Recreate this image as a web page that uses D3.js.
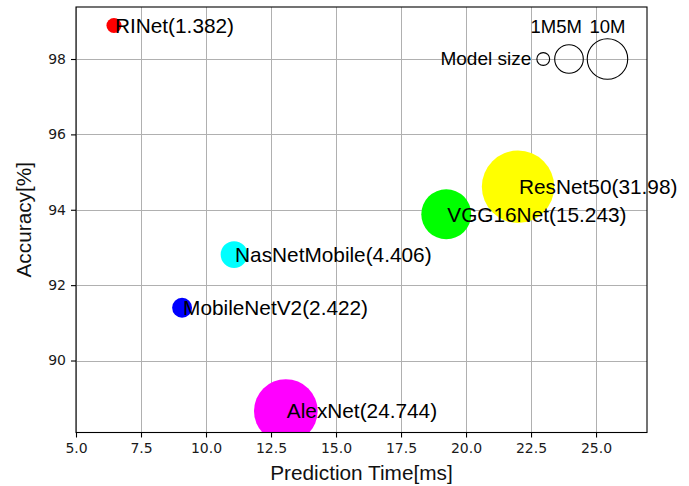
<!DOCTYPE html>
<html>
<head>
<meta charset="utf-8">
<script src="https://cdn.jsdelivr.net/npm/d3@7"></script>
<style>
  html, body { margin: 0; padding: 0; background: #fff; }
  svg { display: block; }
</style>
</head>
<body>
<svg id="chart" width="689" height="486"></svg>
<script>
// ---- data ----
const models   = ["RINet", "MobileNetV2", "NasNetMobile", "AlexNet", "VGG16Net", "ResNet50"];
const times    = [6.46, 9.08, 11.08, 13.07, 19.24, 22.0];      // Prediction Time [ms]
const accuracy = [98.89, 91.40, 92.81, 88.66, 93.88, 94.61];    // Accuracy [%]
const params   = [1.382, 2.422, 4.406, 24.744, 15.243, 31.98];  // Model size [M]
const colors   = ["#ff0000", "#0000ff", "#00ffff", "#ff00ff", "#00ff00", "#ffff00"];

const legendSizes  = [1, 5, 10];
const legendLabels = ["1M", "5M", "10M"];
const legendX      = [22.97, 23.96, 25.44];
const legendY      = 98;
const legendLabelY = 98.7;

const xTicks = [5, 7.5, 10, 12.5, 15, 17.5, 20, 22.5, 25];
const yTicks = [90, 92, 94, 96, 98];

// ---- layout ----
const svg = d3.select("#chart");
const L = 76, R = 647, T = 7, B = 432.5;
const x = d3.scaleLinear().domain([5, 26.96]).range([L, R]);
const y = d3.scaleLinear().domain([88.09, 99.38]).range([B, T]);
const r = d3.scaleSqrt().domain([0, 32]).range([0, 6.4 * Math.sqrt(32)]);

const sans = "'Liberation Sans', Arial, Helvetica, sans-serif";
const dejavu = "'DejaVu Sans', sans-serif";

svg.append("defs").append("clipPath").attr("id", "clip")
  .append("rect").attr("x", L).attr("y", T).attr("width", R - L).attr("height", B - T);

// grid
const grid = svg.append("g").attr("stroke", "#b0b0b0").attr("stroke-width", 1);
grid.selectAll("line.gx").data(xTicks).join("line")
  .attr("x1", d => Math.round(x(d)) + 0.5).attr("x2", d => Math.round(x(d)) + 0.5)
  .attr("y1", T).attr("y2", B);
grid.selectAll("line.gy").data(yTicks).join("line")
  .attr("y1", d => Math.round(y(d)) + 0.5).attr("y2", d => Math.round(y(d)) + 0.5)
  .attr("x1", L).attr("x2", R);

// bubbles
const data = models.map((m, i) => ({ m, t: times[i], a: accuracy[i], p: params[i], c: colors[i] }));
svg.append("g").attr("clip-path", "url(#clip)")
  .selectAll("circle").data(data).join("circle")
  .attr("cx", d => x(d.t)).attr("cy", d => y(d.a)).attr("r", d => r(d.p))
  .attr("fill", d => d.c);

// labels
svg.append("g").attr("font-family", sans).attr("font-size", 20.8).attr("fill", "#000")
  .selectAll("text").data(data).join("text")
  .attr("x", d => x(d.t) + 1).attr("y", d => y(d.a)).attr("dy", "0.35em")
  .text(d => `${d.m}(${d.p})`);

// size legend
const lg = svg.append("g");
lg.selectAll("circle").data(legendSizes).join("circle")
  .attr("cx", (d, i) => x(legendX[i])).attr("cy", y(legendY)).attr("r", d => r(d))
  .attr("fill", "none").attr("stroke", "#000").attr("stroke-width", 1.1);
lg.selectAll("text.lab").data(legendLabels).join("text")
  .attr("class", "lab")
  .attr("x", (d, i) => x(legendX[i])).attr("y", y(legendLabelY))
  .attr("text-anchor", "middle").attr("font-family", sans).attr("font-size", 18.5)
  .text(d => d);
lg.append("text")
  .attr("x", x(legendX[0]) - 12).attr("y", y(legendY)).attr("dy", "0.33em")
  .attr("text-anchor", "end").attr("font-family", sans).attr("font-size", 19)
  .text("Model size");

// axes
const xAxis = d3.axisBottom(x).tickValues(xTicks).tickFormat(d3.format(".1f")).tickSize(5).tickPadding(5);
const yAxis = d3.axisLeft(y).tickValues(yTicks).tickFormat(d3.format("d")).tickSize(5).tickPadding(5);

const gx = svg.append("g").attr("transform", `translate(0,${B})`).call(xAxis);
const gy = svg.append("g").attr("transform", `translate(${L},0)`).call(yAxis);
[gx, gy].forEach(g => {
  g.select(".domain").remove();
  g.selectAll(".tick line").attr("stroke", "#000").attr("stroke-width", 1.1);
  g.selectAll(".tick text").attr("font-family", dejavu).attr("font-size", 14).attr("fill", "#1a1a1a");
});
gx.selectAll(".tick text").attr("dy", "0.72em");

// frame
svg.append("rect").attr("x", L).attr("y", T).attr("width", R - L).attr("height", B - T)
  .attr("fill", "none").attr("stroke", "#000").attr("stroke-width", 1.1);

// axis titles
svg.append("text").attr("x", (L + R) / 2).attr("y", 480)
  .attr("text-anchor", "middle").attr("font-family", sans).attr("font-size", 20.8)
  .attr("fill", "#111").text("Prediction Time[ms]");
svg.append("text").attr("transform", `translate(31,${(T + B) / 2}) rotate(-90)`)
  .attr("text-anchor", "middle").attr("font-family", sans).attr("font-size", 20.8)
  .attr("fill", "#111").text("Accuracy[%]");
</script>
</body>
</html>
